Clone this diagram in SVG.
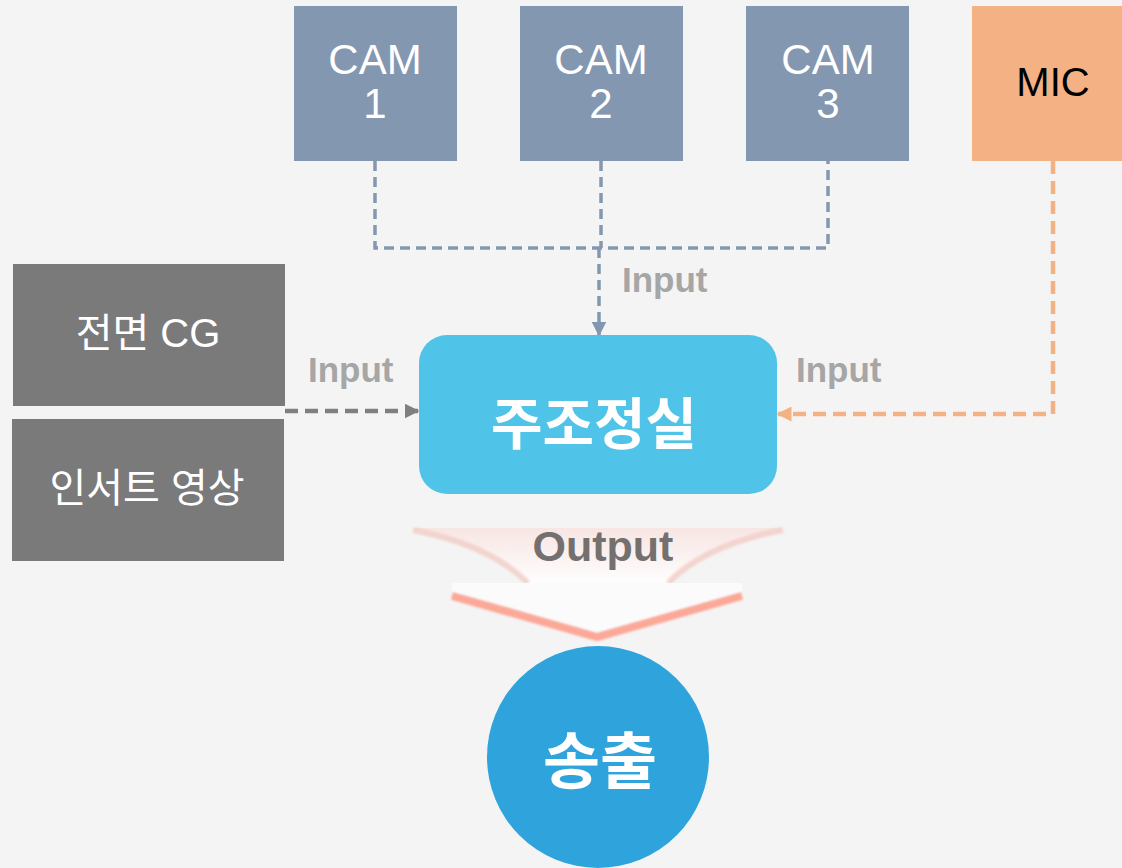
<svg xmlns="http://www.w3.org/2000/svg" width="1122" height="868" viewBox="0 0 1122 868">
<style>
.cam{fill:#8497b0}
.camt{font-family:"Liberation Sans",Arial,sans-serif;font-size:42px;fill:#ffffff;text-anchor:middle}
.gbox{fill:#7a7a7a}
.gt{font-family:"Liberation Sans","Noto Sans CJK KR",sans-serif;font-size:40px;fill:#ffffff;text-anchor:middle}
.lbl{font-family:"Liberation Sans",Arial,sans-serif;font-size:35px;font-weight:bold;fill:#a6a6a6}
.blue{fill:none;stroke:#8497b0;stroke-width:3.5;stroke-dasharray:10 6}
.gray{fill:none;stroke:#7f7f7f;stroke-width:4.5;stroke-dasharray:13 7}
.orng{fill:none;stroke:#f4b183;stroke-width:4.5;stroke-dasharray:13 7}
</style>
<defs>
<marker id="ab" viewBox="0 0 10 10" refX="9" refY="5" markerWidth="15" markerHeight="15" orient="auto" markerUnits="userSpaceOnUse"><path d="M0,0 L10,5 L0,10 Z" fill="#8497b0"/></marker>
<marker id="ag" viewBox="0 0 10 10" refX="9" refY="5" markerWidth="15" markerHeight="15" orient="auto" markerUnits="userSpaceOnUse"><path d="M0,0 L10,5 L0,10 Z" fill="#7f7f7f"/></marker>
<marker id="ao" viewBox="0 0 10 10" refX="9" refY="5" markerWidth="15" markerHeight="15" orient="auto" markerUnits="userSpaceOnUse"><path d="M0,0 L10,5 L0,10 Z" fill="#f4b183"/></marker>
<linearGradient id="og" x1="0" y1="0" x2="0" y2="1">
<stop offset="0" stop-color="#f7e4e1"/>
<stop offset="1" stop-color="#ffffff"/>
</linearGradient>
<filter id="bl" x="-10%" y="-20%" width="120%" height="140%"><feGaussianBlur stdDeviation="1.2"/></filter>
</defs>
<rect x="0" y="0" width="1122" height="868" fill="#f4f4f4"/>

<g id="connectors">
<path class="blue" d="M375,161 V248 H828 V161"/>
<path class="blue" d="M601,161 V248"/>
<path class="blue" d="M599,248 V335" marker-end="url(#ab)"/>
<path class="gray" d="M285,411 H418" marker-end="url(#ag)"/>
<path class="orng" d="M1053,161 V414 H778" marker-end="url(#ao)"/>
</g>

<g id="labels">
<text class="lbl" x="622" y="292">Input</text>
<text class="lbl" x="308" y="382">Input</text>
<text class="lbl" x="796" y="382">Input</text>
</g>

<g id="cam1"><rect class="cam" x="294" y="6" width="163" height="155"/><text class="camt" x="375" y="74">CAM</text><text class="camt" x="375" y="118">1</text></g>
<g id="cam2"><rect class="cam" x="520" y="6" width="163" height="155"/><text class="camt" x="601" y="74">CAM</text><text class="camt" x="601" y="118">2</text></g>
<g id="cam3"><rect class="cam" x="746" y="6" width="163" height="155"/><text class="camt" x="828" y="74">CAM</text><text class="camt" x="828" y="118">3</text></g>
<g id="mic"><rect x="972" y="6" width="150" height="155" fill="#f4b183"/><text x="1053" y="96" font-family="Liberation Sans,Arial,sans-serif" font-size="40" fill="#000000" text-anchor="middle">MIC</text></g>

<g id="cg"><rect class="gbox" x="13" y="264" width="272" height="142"/><text class="gt" x="148" y="347">전면 CG</text></g>
<g id="insert"><rect class="gbox" x="12" y="419" width="272" height="142"/><text class="gt" x="147" y="502">인서트 영상</text></g>

<g id="master"><rect x="419" y="335" width="358" height="159" rx="28" fill="#4fc3e8"/><text x="594" y="444" font-family="Noto Sans CJK KR,sans-serif" font-size="56" font-weight="bold" fill="#ffffff" text-anchor="middle">주조정실</text></g>

<g id="output">
<path d="M413,528 L783,528 Q705,545 668,583 L528,583 Q490,545 413,528 Z" fill="url(#og)" opacity="0.9"/>
<path d="M413,530 Q490,545 528,583" fill="none" stroke="#f2c7bf" stroke-width="6" opacity="0.7" filter="url(#bl)"/>
<path d="M783,530 Q705,545 668,583" fill="none" stroke="#f2c7bf" stroke-width="6" opacity="0.7" filter="url(#bl)"/>
<path d="M452,583 L742,583 L742,592 L597,633 L452,592 Z" fill="#fbfbfb"/>
<path d="M452,596 L597,637 L742,596" fill="none" stroke="#fca898" stroke-width="8" filter="url(#bl)"/>
<text x="603" y="561" font-family="Liberation Sans,Arial,sans-serif" font-size="43" font-weight="bold" fill="#757070" text-anchor="middle">Output</text>
</g>

<g id="broadcast"><circle cx="598" cy="757" r="111" fill="#2ea3dc"/><text x="600" y="784" font-family="Noto Sans CJK KR,sans-serif" font-size="62" font-weight="bold" fill="#ffffff" text-anchor="middle">송출</text></g>
</svg>
